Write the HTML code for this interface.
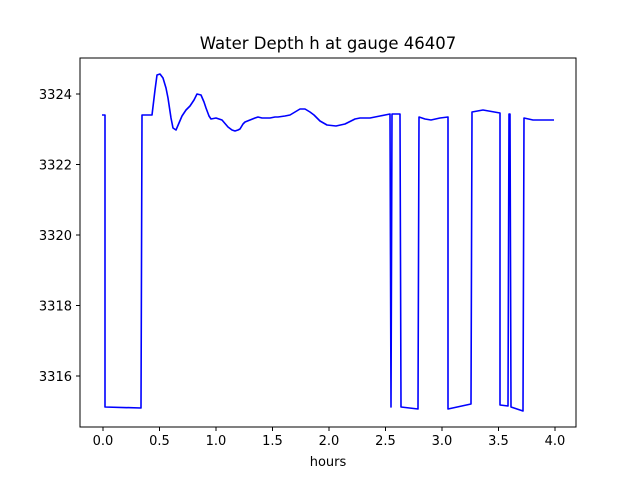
<!DOCTYPE html>
<html><head><style>body{margin:0;background:#fff}</style></head><body>
<svg width="640" height="480" xmlns="http://www.w3.org/2000/svg" font-family="DejaVu Sans, sans-serif">
<rect width="640" height="480" fill="#fff"/>
<text x="328" y="49" font-size="16.5" text-anchor="middle">Water Depth h at gauge 46407</text>
<polyline fill="none" stroke="#0000ff" stroke-width="1.6" stroke-linejoin="round" points="102,115 105,115 105,407 141,408 142,115 152,115 155,90 157,75 160,74 163,78 166,88 168,98 171,118 173,128 176,130 179,123 182,116 186,110 190,106 194,100 197,94 201,95 204,102 206,108 209,116 211,119 216,118 222,120 228,127 232,130 235,131 238,130 240,129 243,124 245,122 250,120 255,118 258,117 262,118 270,118 275,117 278,117 285,116 290,115 295,112 300,109 305,109 310,112 314,115 320,121 327,125 336,126 345,124 355,119 360,118 370,118 380,116 390,114 391,407 392,114 400,114 401,407 418,409 419,117 425,119 431,120 440,118 448,117 448,409 471,404 472,112 483,110 500,113 500,405 508,406 509,114 510,114 511,407 523,411 524,118 533,120 545,120 554,120"/>
<rect x="80" y="58" width="496" height="369" fill="none" stroke="#000" stroke-width="1"/>
<g stroke="#000" stroke-width="1">
<line x1="103" y1="427" x2="103" y2="431"/><line x1="159.5" y1="427" x2="159.5" y2="431"/><line x1="216" y1="427" x2="216" y2="431"/><line x1="272.5" y1="427" x2="272.5" y2="431"/><line x1="329" y1="427" x2="329" y2="431"/><line x1="385.5" y1="427" x2="385.5" y2="431"/><line x1="442" y1="427" x2="442" y2="431"/><line x1="498.5" y1="427" x2="498.5" y2="431"/><line x1="555" y1="427" x2="555" y2="431"/>
<line x1="76" y1="94" x2="80" y2="94"/><line x1="76" y1="164.5" x2="80" y2="164.5"/><line x1="76" y1="235" x2="80" y2="235"/><line x1="76" y1="305.5" x2="80" y2="305.5"/><line x1="76" y1="376" x2="80" y2="376"/>
</g>
<g font-size="13" text-anchor="middle">
<text x="103" y="445">0.0</text><text x="159.5" y="445">0.5</text><text x="216" y="445">1.0</text><text x="272.5" y="445">1.5</text><text x="329" y="445">2.0</text><text x="385.5" y="445">2.5</text><text x="442" y="445">3.0</text><text x="498.5" y="445">3.5</text><text x="555" y="445">4.0</text>
<text x="328" y="466">hours</text>
</g>
<g font-size="13" text-anchor="end">
<text x="72" y="99">3324</text><text x="72" y="169.5">3322</text><text x="72" y="240">3320</text><text x="72" y="310.5">3318</text><text x="72" y="381">3316</text>
</g>
</svg>
</body></html>
